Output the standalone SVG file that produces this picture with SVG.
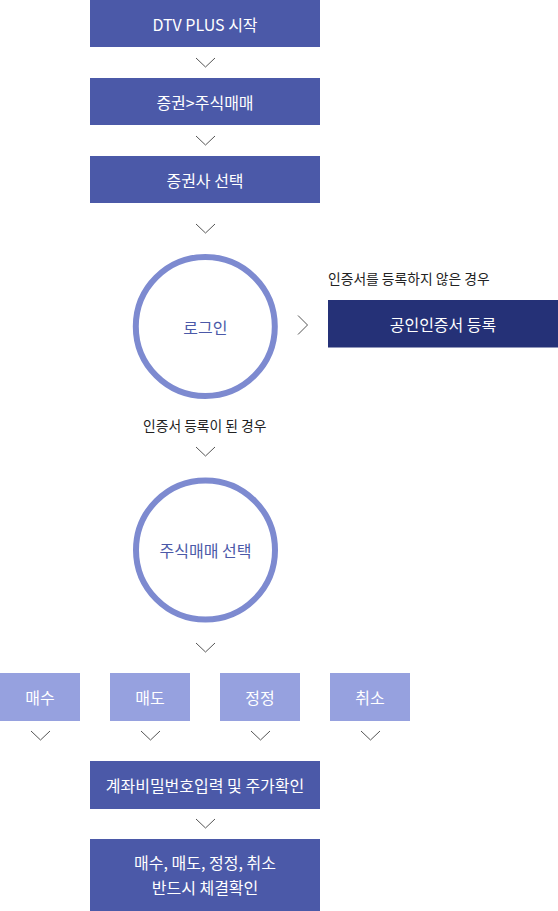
<svg xmlns="http://www.w3.org/2000/svg" width="558" height="911" viewBox="0 0 558 911">
<style>
.box{fill:#4b59a8}
.dark{fill:#253177}
.light{fill:#96a1df}
.ring{fill:#fff;stroke:#7d8ad0;stroke-width:6}
.t{font-family:"Noto Sans CJK KR","Noto Sans",sans-serif;font-size:16px;text-anchor:middle;dominant-baseline:central}
.w{fill:#fff}
.b{fill:#4b59a8}
.lbl{font-family:"Noto Sans CJK KR","Noto Sans",sans-serif;font-size:13.8px;fill:#222}
.chev{fill:none;stroke:#555;stroke-width:1}
</style>
<g id="n1"><rect class="box" x="90" y="0" width="230" height="47"/><text class="t w" x="205" y="23.5">DTV PLUS 시작</text></g>
<g id="n2"><rect class="box" x="90" y="78" width="230" height="47"/><text class="t w" x="205" y="101.5">증권&gt;주식매매</text></g>
<g id="n3"><rect class="box" x="90" y="156" width="230" height="47"/><text class="t w" x="205" y="179.5">증권사 선택</text></g>
<g id="n4"><circle class="ring" cx="205.3" cy="326.5" r="69.5"/><text class="t b" x="205.3" y="326.5">로그인</text></g>
<g id="n5"><rect class="dark" x="328" y="300" width="230" height="47.5"/><text class="t w" x="443" y="323.5">공인인증서 등록</text></g>
<g id="n6"><circle class="ring" cx="205.5" cy="550" r="69.5"/><text class="t b" x="205.5" y="550">주식매매 선택</text></g>
<g id="n7"><rect class="light" x="0" y="673" width="80" height="48"/><text class="t w" x="40" y="697">매수</text></g>
<g id="n8"><rect class="light" x="110" y="673" width="80" height="48"/><text class="t w" x="150" y="697">매도</text></g>
<g id="n9"><rect class="light" x="220" y="673" width="80" height="48"/><text class="t w" x="260" y="697">정정</text></g>
<g id="n10"><rect class="light" x="330" y="673" width="80" height="48"/><text class="t w" x="370" y="697">취소</text></g>
<g id="n11"><rect class="box" x="90" y="761" width="230" height="48"/><text class="t w" x="205" y="785">계좌비밀번호입력 및 주가확인</text></g>
<g id="n12"><rect class="box" x="90" y="839" width="230" height="72"/><text class="t w" x="205" y="862">매수, 매도, 정정, 취소</text><text class="t w" x="205" y="887">반드시 체결확인</text></g>
<g id="labels">
<text class="lbl" x="328" y="284">인증서를 등록하지 않은 경우</text>
<text class="lbl" x="143" y="431">인증서 등록이 된 경우</text>
</g>
<g id="connectors">
<path class="chev" d="M196,58 L205.5,67 L215,58"/>
<path class="chev" d="M196,136 L205.5,145 L215,136"/>
<path class="chev" d="M196,224 L205.5,233 L215,224"/>
<path class="chev" d="M298,315.5 L307.5,325 L298,334.5"/>
<path class="chev" d="M196,447 L205.5,456 L215,447"/>
<path class="chev" d="M196,643 L205.5,652 L215,643"/>
<path class="chev" d="M31,731 L40.5,740 L50,731"/>
<path class="chev" d="M141,731 L150.5,740 L160,731"/>
<path class="chev" d="M251,731 L260.5,740 L270,731"/>
<path class="chev" d="M361,731 L370.5,740 L380,731"/>
<path class="chev" d="M196,819 L205.5,828 L215,819"/>
</g>
</svg>
